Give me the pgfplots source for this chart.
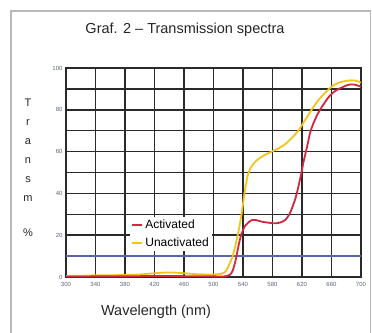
\documentclass[border=0pt]{standalone}
\usepackage{fontspec}
\setmainfont{Liberation Sans}
\usepackage{pgfplots}
\pgfplotsset{compat=1.18}
\definecolor{actred}{HTML}{D0283C}
\definecolor{unyel}{HTML}{F2C41A}
\definecolor{gridc}{HTML}{2A2A2A}
\definecolor{tickc}{HTML}{5A6478}
\definecolor{bluel}{HTML}{5A64A8}
\begin{document}
\begin{tikzpicture}
\path[use as bounding box] (0,0) rectangle (372pt,332pt);
\draw[gray!55, line width=1.5pt] (11pt,-5pt) -- (11pt,321pt) -- (370.5pt,321pt) -- (370.5pt,-5pt);
\node[font=\fontsize{14.5}{16}\selectfont, text=black!85] at (185pt,302pt) {Graf. 2 -- Transmission spectra};
\node[font=\fontsize{14.5}{16}\selectfont, text=black!85] at (156pt,20pt) {Wavelength (nm)};
\node[font=\fontsize{11}{19}\selectfont, text=black!85, align=center, anchor=north, inner sep=0pt] at (28pt,233pt) {T\\r\\a\\n\\s\\m\\[16pt]\%};
\begin{axis}[at={(66pt,55pt)}, anchor=south west, scale only axis,
  width=295pt, height=209pt,
  xmin=300, xmax=700, ymin=0, ymax=100,
  xtick={300,340,...,700}, ytick={0,20,...,100}, minor ytick={10,30,...,90},
  grid=both,
  major grid style={gridc, line width=1.5pt},
  minor grid style={gridc, line width=1.5pt},
  axis line style={gridc, line width=1.5pt},
  tick style={draw=none},
  ticklabel style={font=\fontsize{6}{7}\selectfont, text=tickc},
  /pgf/number format/assume math mode=true,
  xticklabel style={yshift=-2pt},
  reverse legend,
  legend cell align=left,
  legend style={at={(axis cs:387,28.7)}, anchor=north west, draw=none, fill=white,
    font=\fontsize{12}{14}\selectfont, row sep=3pt, inner sep=1pt},
  legend image code/.code={\draw[#1, line width=2pt] (0pt,0pt) -- (10pt,0pt);},
]
\addplot[bluel, line width=1.5pt, forget plot] coordinates {(300,10) (700,10)};
\addplot[unyel, line width=1.8pt, smooth, tension=0.4] coordinates {
(300,0.5)(320,0.6)(340,0.8)(360,0.8)(380,1)(400,1.2)(420,1.8)(440,2.2)(460,1.8)(480,1.3)(500,1.2)(510,1.5)(516,2.5)(520,5)(525,9)(529,14)(534,22)(538,30)(542,40)(546,48)(550,52)(555,54.5)(561,56.5)(570,58.5)(579,60)(588,61.5)(597,63.5)(606,66.5)(615,70)(624,75)(633,80)(642,84.5)(651,88)(660,91)(670,93)(683,94)(692,94)(700,93)};
\addlegendentry{Unactivated}
\addplot[actred, line width=1.8pt, smooth, tension=0.4] coordinates {
(300,0.2)(340,0.3)(380,0.3)(420,0.5)(460,0.4)(500,0.3)(515,0.3)(522,1)(526,3)(530,8)(534,15)(537,19.5)(542,24)(547,26)(552,27.2)(558,27.2)(565,26.5)(574,26)(583,25.7)(590,26)(597,27.2)(602,29.5)(606,32.5)(611,37.5)(615,43)(619,49.5)(622,55)(627,62.5)(631,69)(636,74)(642,78.5)(649,82.5)(656,86)(663,88.5)(670,90)(683,92)(692,92)(700,91)};
\addlegendentry{Activated}
\end{axis}
\end{tikzpicture}
\end{document}
